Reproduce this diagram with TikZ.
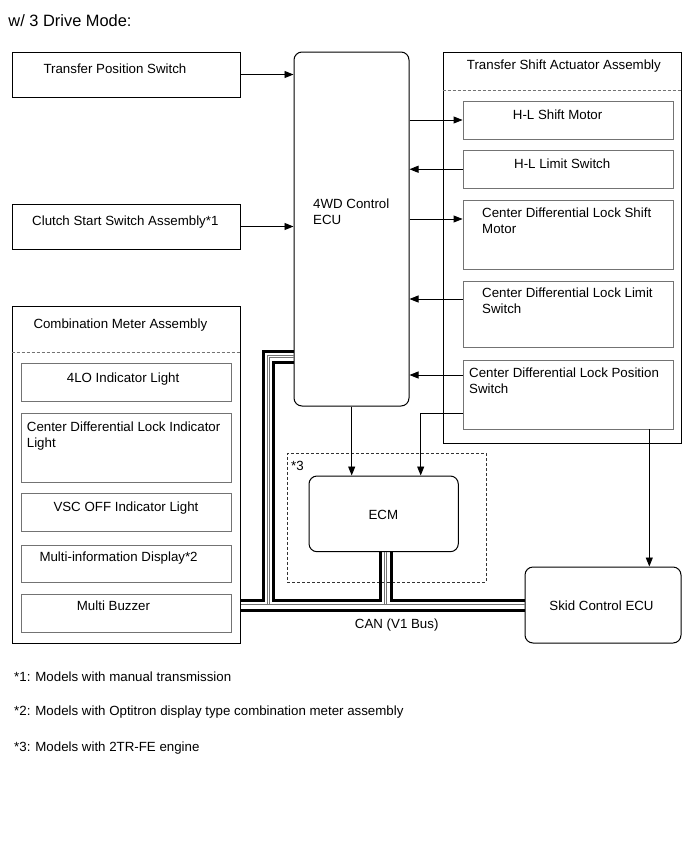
\documentclass[tikz,border=0pt]{standalone}
\usepackage{fontspec}
\setmainfont{Liberation Sans}
\usetikzlibrary{arrows.meta,fit}
\begin{document}
\begin{tikzpicture}[x=1pt,y=-1pt,
  box/.style={draw=black,line width=1pt,inner sep=0pt},
  ibox/.style={draw=black!55,line width=0.9pt,inner sep=0pt},
  rbox/.style={draw=black,line width=1pt,rounded corners=8pt,inner sep=0pt},
  dbox/.style={draw=black!80,line width=0.8pt,dash pattern=on 3pt off 2pt,inner sep=0pt},
  sepline/.style={draw=black!55,line width=0.8pt,dash pattern=on 3pt off 2pt},
  txt/.style={inner sep=0pt,font=\fontsize{13.3}{16}\selectfont,anchor=base west},
  conn/.style={line width=0.9pt,-{Triangle[length=9pt,width=7pt]}},
  can/.style={line width=3pt},
  canthin/.style={line width=0.8pt,black!55}
]
\fill[white] (0,0) rectangle (690,854);
\useasboundingbox (0,0) rectangle (690,854);

\node[txt,font=\fontsize{16.4}{19}\selectfont] (title) at (8.3,26) {w/ 3 Drive Mode:};

% left input boxes
\node[box,fit={(12,52) (240,97)}] (tps) {};
\node[txt] (tpst) at (43.3,73) {Transfer Position Switch};
\node[box,fit={(12,204) (240,249)}] (clutch) {};
\node[txt] (clutcht) at (32,225) {Clutch Start Switch Assembly*1};

% 4WD ECU
\node[rbox,fit={(294,52) (409,406)}] (ecu) {};
\node[txt] (ecut1) at (313,208) {4WD Control};
\node[txt] (ecut2) at (313,224) {ECU};

% Transfer shift actuator assembly
\node[box,fit={(443,52) (681,443)}] (tsa) {};
\node[txt] (tsat) at (466.7,69) {Transfer Shift Actuator Assembly};
\draw[sepline] (tsa.west |- 0,90) -- (tsa.east |- 0,90);
\node[ibox,fit={(463,101) (673,139)}] (hlsm) {};
\node[txt] (hlsmt) at (512.7,119) {H-L Shift Motor};
\node[ibox,fit={(463,150.5) (673,188)}] (hlls) {};
\node[txt] (hllst) at (514,168) {H-L Limit Switch};
\node[ibox,fit={(463,200.5) (673,269)}] (cdlsm) {};
\node[txt] (cdlsmt1) at (482,217) {Center Differential Lock Shift};
\node[txt] (cdlsmt2) at (482,233) {Motor};
\node[ibox,fit={(463,281) (673,347)}] (cdlls) {};
\node[txt] (cdllst1) at (482,297) {Center Differential Lock Limit};
\node[txt] (cdllst2) at (482,313) {Switch};
\node[ibox,fit={(463,360) (673,429)}] (cdlps) {};
\node[txt] (cdlpst1) at (469,377.5) {Center Differential Lock Position};
\node[txt] (cdlpst2) at (469,393.5) {Switch};

% Combination meter assembly
\node[box,fit={(12,306) (240,643)}] (cma) {};
\node[txt] (cmat) at (33.3,328.3) {Combination Meter Assembly};
\draw[sepline] (cma.west |- 0,352) -- (cma.east |- 0,352);
\node[ibox,fit={(21,363) (231,401.7)}] (lo) {};
\node[txt] (lot) at (66.7,382) {4LO Indicator Light};
\node[ibox,fit={(21,413) (231,482)}] (cdli) {};
\node[txt] (cdlit1) at (26.7,431) {Center Differential Lock Indicator};
\node[txt] (cdlit2) at (26.7,447) {Light};
\node[ibox,fit={(21,493) (231,531.5)}] (vsc) {};
\node[txt] (vsct) at (53.3,511) {VSC OFF Indicator Light};
\node[ibox,fit={(21,545) (231,582)}] (mid) {};
\node[txt] (midt) at (39.3,561) {Multi-information Display*2};
\node[ibox,fit={(21,594) (231,632.5)}] (buz) {};
\node[txt] (buzt) at (76.7,610) {Multi Buzzer};

% ECM
\node[dbox,fit={(287.3,453.3) (486,582.3)}] (opt3) {};
\node[txt] (opt3t) at (291,470) {*3};
\node[rbox,fit={(309,476) (458.3,551.7)}] (ecm) {};
\node[inner sep=0pt,font=\fontsize{13.3}{16}\selectfont] (ecmt) at (383.3,514.5) {ECM};

% Skid control ECU
\node[rbox,fit={(525,567) (681,643)}] (skid) {};
\node[inner sep=0pt,font=\fontsize{13.3}{16}\selectfont] (skidt) at (601.5,605.5) {Skid Control ECU};

% connectors
\draw[conn] (tps.east) -- (tps.east -| ecu.west);
\draw[conn] (clutch.east) -- (clutch.east -| ecu.west);
\draw[conn] (ecu.east |- hlsm.west) -- (hlsm.west);
\draw[conn] (hlls.west) -- (hlls.west -| ecu.east);
\draw[conn] (ecu.east |- 0,219) -- (cdlsm.west |- 0,219);
\draw[conn] (cdlls.west |- 0,299) -- (ecu.east |- 0,299);
\draw[conn] (cdlps.west |- 0,375) -- (ecu.east |- 0,375);
\coordinate (psbend) at (420.7,413);
\draw[conn] (cdlps.west |- psbend) -- (psbend) -- (psbend |- ecm.north);
\draw[conn] (ecu.south -| 351.7,0) -- (ecm.north -| 351.7,0);
\draw[conn] (cdlps.south -| 649.3,0) -- (skid.north -| 649.3,0);

% CAN bus
\draw[can] (cma.east |- 0,600) -- (263.3,600) -- (263.3,351.3) -- (ecu.west |- 0,351.3);
\draw[can] (ecu.west |- 0,362) -- (273.3,362) -- (273.3,600) -- (380,600) -- (ecm.south -| 380,0);
\draw[can] (ecm.south -| 391,0) -- (391,600) -- (skid.west |- 0,600);
\draw[can] (cma.east |- 0,610) -- (skid.west |- 0,610);
\draw[canthin] (cma.east |- 0,604.8) -- (skid.west |- 0,604.8);
\draw[canthin] (ecu.west |- 0,355.6) -- (267.4,355.6) -- (267.4,604.8);
\draw[canthin] (ecu.west |- 0,357.8) -- (269.6,357.8) -- (269.6,604.8);
\draw[canthin] (ecm.south -| 384.4,0) -- (384.4,604.8);
\draw[canthin] (ecm.south -| 386.6,0) -- (386.6,604.8);
\node[inner sep=0pt,font=\fontsize{13.3}{16}\selectfont,anchor=base] (canlbl) at (396.7,628) {CAN (V1 Bus)};

% footnotes
\node[txt] (fn1) at (14,681) {*1: Models with manual transmission};
\node[txt] (fn2) at (14,715) {*2: Models with Optitron display type combination meter assembly};
\node[txt] (fn3) at (14,751) {*3: Models with 2TR-FE engine};
\end{tikzpicture}
\end{document}
